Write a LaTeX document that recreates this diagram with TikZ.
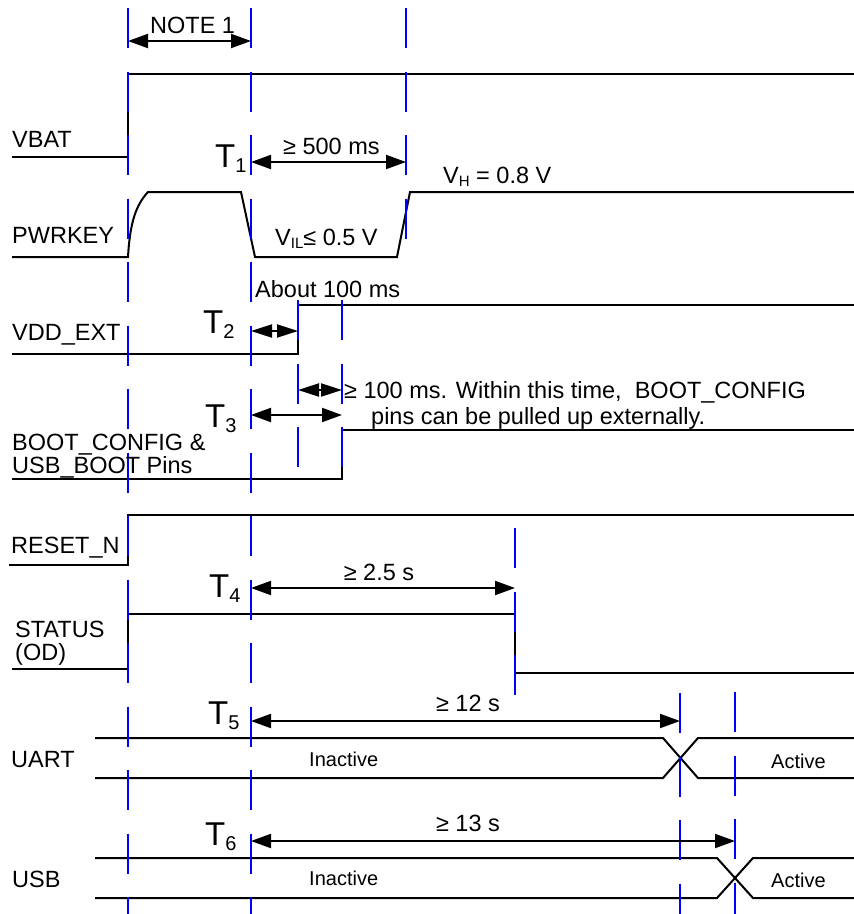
\documentclass[tikz,border=0pt]{standalone}
\usepackage{fontspec}
\setmainfont{Liberation Sans}
\usetikzlibrary{arrows.meta}
\definecolor{guideblue}{RGB}{0,0,255}
\newcommand{\Tlab}[1]{{\fontsize{33}{33}\selectfont T}\raisebox{-5pt}{\fontsize{20}{20}\selectfont #1}}
\newcommand{\Vlab}[1]{V\raisebox{-3pt}{\fontsize{15}{15}\selectfont #1}}
\begin{document}
\begin{tikzpicture}[x=1pt,y=-1pt,
  sig/.style={line width=2pt, draw=black},
  guide/.style={draw=guideblue, line width=2pt, dash pattern=on 40pt off 23.5pt},
  dimarrow/.style={line width=2pt, {Triangle[length=20pt,width=14pt]}-{Triangle[length=20pt,width=14pt]}},
  shortarrow/.style={line width=2pt, {Triangle[length=21pt,width=13pt]}-{Triangle[length=21pt,width=13pt]}},
  lbl/.style={anchor=base west, inner sep=0pt, font=\fontsize{23.5}{26}\selectfont},
  mid/.style={anchor=base, inner sep=0pt, font=\fontsize{23.5}{26}\selectfont},
  small/.style={anchor=base west, inner sep=0pt, font=\fontsize{20}{22}\selectfont},
  tl/.style={anchor=base west, inner sep=0pt}
]
\fill[white] (0,0) rectangle (854,914);
\useasboundingbox (0,0) rectangle (854,914);

% ---- signals ----
% VBAT
\draw[sig] (12,157) -- (128,157) -- (128,74) -- (854,74);
% PWRKEY
\draw[sig] (12,257) -- (128,257) .. controls (130,222) and (136,205) .. (148,192) -- (241,192) -- (255,257) -- (397,257) -- (410,192) -- (854,192);
% VDD_EXT
\draw[sig] (12,354) -- (298,354) -- (298,305) -- (854,305);
% BOOT_CONFIG
\draw[sig] (12,479) -- (342,479) -- (342,430) -- (854,430);
% RESET_N
\draw[sig] (9,565) -- (128,565) -- (128,515) -- (854,515);
% STATUS
\draw[sig] (12,669) -- (128,669) -- (128,614) -- (515,614) -- (515,673) -- (854,673);
% UART
\draw[sig] (95,738) -- (663,738) -- (698,778) -- (854,778);
\draw[sig] (95,778) -- (663,778) -- (698,738) -- (854,738);
% USB
\draw[sig] (95,858) -- (717,858) -- (753,898) -- (854,898);
\draw[sig] (95,898) -- (717,898) -- (753,858) -- (854,858);

% ---- guide lines ----
\draw[guide] (128,8) -- (128,914);
\draw[guide] (251,8) -- (251,914);
\draw[guide] (406,8) -- (406,240);
\draw[guide] (298,300) -- (298,467);
\draw[guide] (342,300) -- (342,467);
\draw[guide] (515,528) -- (515,695);
\draw[guide] (680,693) -- (680,914);
\draw[guide] (735,692) -- (735,914);

% ---- dimension arrows ----
\coordinate (n1a) at (128,41);  \coordinate (n1b) at (251,41);
\coordinate (t1a) at (251,162); \coordinate (t1b) at (406,162);
\coordinate (t2a) at (251,331); \coordinate (t2b) at (298,331);
\coordinate (t3a) at (251,415); \coordinate (t3b) at (342,415);
\coordinate (sba) at (298,390); \coordinate (sbb) at (342,390);
\coordinate (t4a) at (251,588); \coordinate (t4b) at (515,588);
\coordinate (t5a) at (251,721); \coordinate (t5b) at (680,721);
\coordinate (t6a) at (251,841); \coordinate (t6b) at (735,841);
\draw[dimarrow] (n1a) -- (n1b);
\draw[dimarrow] (t1a) -- (t1b);
\draw[shortarrow] (t2a) -- (t2b);
\draw[dimarrow] (t3a) -- (t3b);
\draw[shortarrow] (sba) -- (sbb);
\draw[dimarrow] (t4a) -- (t4b);
\draw[dimarrow] (t5a) -- (t5b);
\draw[dimarrow] (t6a) -- (t6b);

% ---- texts ----
\node[lbl] (note) at (150,33) {NOTE 1};
\node[lbl] (vbat) at (12,147) {VBAT};
\node[lbl] (d500) at (283,154) {≥ 500 ms};
\node[tl] (T1) at (215,167) {\Tlab{1}};
\node[lbl] (vh) at (443,183) {\Vlab{H} = 0.8 V};
\node[lbl] (pwrkey) at (12,243) {PWRKEY};
\node[lbl] (vil) at (275,245) {\Vlab{IL}≤ 0.5 V};
\node[lbl] (about) at (255,297) {About 100 ms};
\node[lbl] (vddext) at (12,340) {VDD\_EXT};
\node[tl] (T2) at (203,333) {\Tlab{2}};
\node[lbl] (within) at (344,398) {≥ 100 ms. Within this time,\ \ BOOT\_CONFIG};
\node[lbl] (pins) at (371,424) {pins can be pulled up externally.};
\node[tl] (T3) at (205,427) {\Tlab{3}};
\node[lbl] (boot1) at (12,450) {BOOT\_CONFIG \&};
\node[lbl] (boot2) at (12,473) {USB\_BOOT Pins};
\node[lbl] (reset) at (11,553) {RESET\_N};
\node[mid] (d25) at (379,580) {≥ 2.5 s};
\node[tl] (T4) at (209,597) {\Tlab{4}};
\node[lbl] (status) at (15,637) {STATUS};
\node[lbl] (od) at (15,660) {(OD)};
\node[mid] (d12) at (468,711) {≥ 12 s};
\node[tl] (T5) at (208,724) {\Tlab{5}};
\node[lbl] (uart) at (11,767) {UART};
\node[small] (inact1) at (309,766) {Inactive};
\node[small] (act1) at (771,768) {Active};
\node[mid] (d13) at (468,831) {≥ 13 s};
\node[tl] (T6) at (205,845) {\Tlab{6}};
\node[lbl] (usb) at (12,887) {USB};
\node[small] (inact2) at (309,885) {Inactive};
\node[small] (act2) at (771,887) {Active};
\end{tikzpicture}
\end{document}
